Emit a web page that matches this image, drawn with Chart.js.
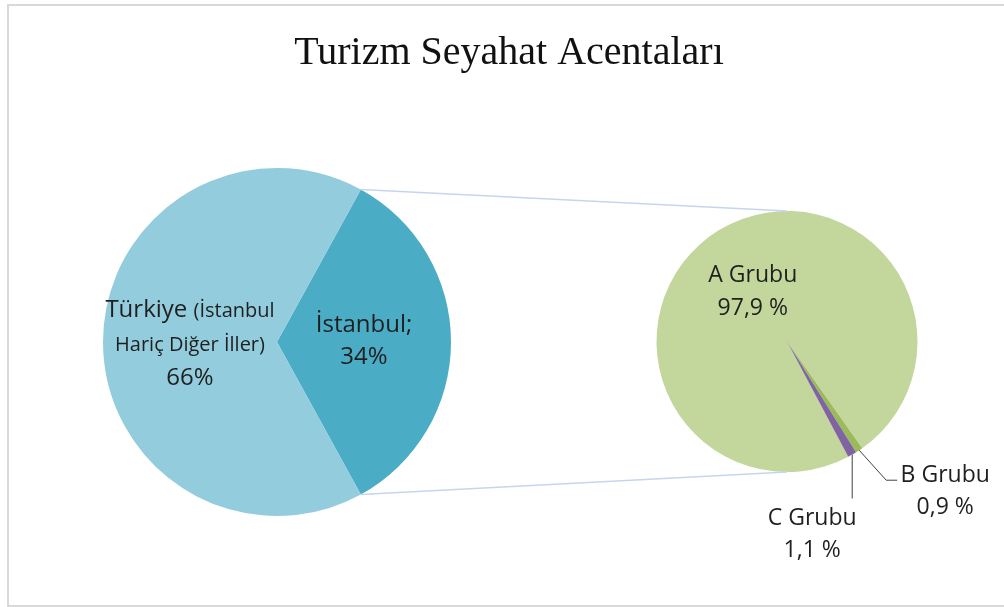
<!DOCTYPE html>
<html>
<head>
<meta charset="utf-8">
<title>Turizm Seyahat Acentaları</title>
<script src="https://cdn.jsdelivr.net/npm/chart.js@4.4.1/dist/chart.umd.min.js"></script>
<style>
  html, body { margin: 0; padding: 0; background: #fff; overflow: hidden; }
  #frame {
    position: absolute; left: 7px; top: 4px; width: 1010px; height: 599px;
    border: 2px solid #d9d9d9;
  }
  canvas { position: absolute; left: 0; top: 0; }
</style>
</head>
<body>
<div id="frame"></div>
<canvas id="mainPie" width="1004" height="607"></canvas>
<canvas id="subPie" width="1004" height="607"></canvas>
<script>
// data
const title = "Turizm Seyahat Acentaları";

const mainLabels = ["İstanbul", "Türkiye (İstanbul Hariç Diğer İller)"];
const mainValues = [34, 66];
const mainColors = ["#4bacc6", "#93cddd"];

const subLabels = ["A Grubu", "B Grubu", "C Grubu"];
const subValues = [97.9, 0.9, 1.1];
const subColors = ["#c3d69b", "#9bbb59", "#8064a2"];

const FONT = "'Open Sans', sans-serif";
const TEXT_COLOR = "#1f1f1f";

// label text (segments: [text, size]) and placement relative to the arc
const mainLabelLayout = [
  { lines: [[["İstanbul;", 24]], [["34%", 24]]], dy: -10, lineHeight: 32 },
  { lines: [[["Türkiye ", 24], ["(İstanbul", 20]], [["Hariç Diğer İller)", 20]], [["66%", 24]]], dy: -25, lineHeight: 34 }
];
const subLabelLayout = [
  { inside: true, lines: [[["A Grubu", 23]], [["97,9 %", 23]]], dy: -4, lineHeight: 33 },
  { inside: false, lines: [[["B Grubu", 23]], [["0,9 %", 23]]], elbow: [27, 30], tail: 11, textDx: 48, textDy: 2, lineHeight: 32 },
  { inside: false, lines: [[["C Grubu", 23]], [["1,1 %", 23]]], elbow: [0, 44], tail: 0, textDx: -40, textDy: 26, lineHeight: 32 }
];

function drawLine(ctx, segs, cx, y) {
  let total = 0;
  segs.forEach(s => {
    ctx.font = `${s[1]}px ${FONT}`;
    total += ctx.measureText(s[0]).width;
  });
  let x = cx - total / 2;
  segs.forEach(s => {
    ctx.font = `${s[1]}px ${FONT}`;
    ctx.fillText(s[0], x, y);
    x += ctx.measureText(s[0]).width;
  });
}

function drawBlock(ctx, layout, cx, y0) {
  layout.lines.forEach((segs, i) => drawLine(ctx, segs, cx, y0 + i * layout.lineHeight));
}

function rimPoint(arc, r) {
  const mid = (arc.startAngle + arc.endAngle) / 2;
  return { x: arc.x + Math.cos(mid) * r, y: arc.y + Math.sin(mid) * r };
}

const mainPlugin = {
  id: 'mainLabels',
  afterDraw(chart) {
    const ctx = chart.ctx;
    ctx.save();
    // title
    ctx.fillStyle = "#111";
    ctx.font = "40px 'Liberation Serif', serif";
    ctx.textAlign = "center";
    ctx.textBaseline = "alphabetic";
    ctx.fillText(title, 509, 64);

    ctx.textAlign = "left";
    ctx.fillStyle = TEXT_COLOR;
    chart.getDatasetMeta(0).data.forEach((arc, i) => {
      const p = arc.tooltipPosition();
      drawBlock(ctx, mainLabelLayout[i], p.x, p.y + mainLabelLayout[i].dy);
    });
    ctx.restore();
  }
};

let mainChart;

const subPlugin = {
  id: 'subLabels',
  afterDraw(chart) {
    const ctx = chart.ctx;
    const subArcs = chart.getDatasetMeta(0).data;
    ctx.save();

    // connector lines from the İstanbul slice to the secondary pie
    const big = mainChart.getDatasetMeta(0).data[0];
    const small = subArcs[0];
    const R = big.outerRadius;
    const p1 = { x: big.x + Math.cos(big.startAngle) * R, y: big.y + Math.sin(big.startAngle) * R };
    const p2 = { x: big.x + Math.cos(big.endAngle) * R, y: big.y + Math.sin(big.endAngle) * R };
    ctx.strokeStyle = "#c5d6ec";
    ctx.lineWidth = 1.5;
    ctx.beginPath();
    ctx.moveTo(p1.x, p1.y);
    ctx.lineTo(small.x, small.y - small.outerRadius);
    ctx.moveTo(p2.x, p2.y);
    ctx.lineTo(small.x, small.y + small.outerRadius);
    ctx.stroke();

    ctx.fillStyle = TEXT_COLOR;
    ctx.textAlign = "left";
    subArcs.forEach((arc, i) => {
      const lay = subLabelLayout[i];
      if (lay.inside) {
        const p = arc.tooltipPosition();
        drawBlock(ctx, lay, p.x, p.y + lay.dy);
        return;
      }
      const rim = rimPoint(arc, arc.outerRadius);
      const elbow = { x: rim.x + lay.elbow[0], y: rim.y + lay.elbow[1] };
      const end = { x: elbow.x + lay.tail, y: elbow.y };
      ctx.strokeStyle = "#404040";
      ctx.lineWidth = 1;
      ctx.beginPath();
      ctx.moveTo(rim.x, rim.y);
      ctx.lineTo(elbow.x, elbow.y);
      ctx.lineTo(end.x, end.y);
      ctx.stroke();
      drawBlock(ctx, lay, end.x + lay.textDx, end.y + lay.textDy);
    });
    ctx.restore();
  }
};

const commonOptions = {
  responsive: false,
  animation: false,
  events: [],
  plugins: { legend: { display: false }, tooltip: { enabled: false }, title: { display: false } }
};

mainChart = new Chart(document.getElementById('mainPie'), {
  type: 'pie',
  data: {
    labels: mainLabels,
    datasets: [{ data: mainValues, backgroundColor: mainColors, borderWidth: 0, hoverOffset: 0 }]
  },
  options: {
    ...commonOptions,
    rotation: 28.8,
    radius: 174,
    layout: { padding: { left: 0, right: 450, top: 77, bottom: 0 } }
  },
  plugins: [mainPlugin]
});

new Chart(document.getElementById('subPie'), {
  type: 'pie',
  data: {
    labels: subLabels,
    datasets: [{ data: subValues, backgroundColor: subColors, borderWidth: 0, hoverOffset: 0 }]
  },
  options: {
    ...commonOptions,
    rotation: 152,
    radius: 130.5,
    layout: { padding: { left: 570, right: 0, top: 76, bottom: 0 } }
  },
  plugins: [subPlugin]
});
</script>
</body>
</html>
